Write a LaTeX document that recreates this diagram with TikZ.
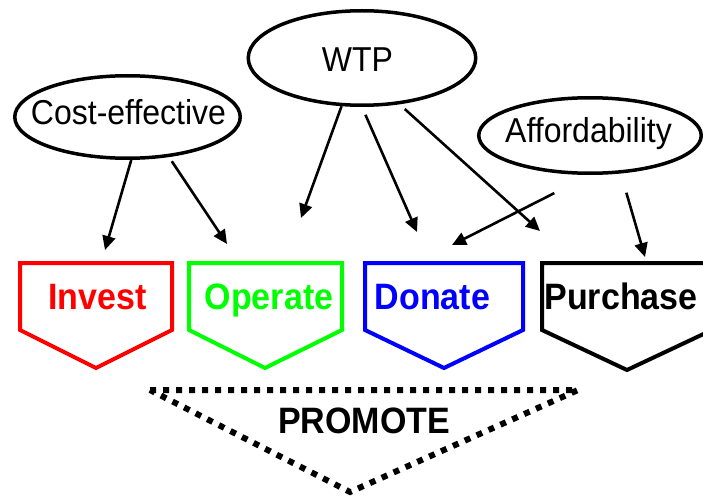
\documentclass[tikz,border=0pt]{standalone}
\usepackage{fontspec}
\setmainfont{Liberation Sans}
\usetikzlibrary{shapes.geometric,arrows.meta}
\newcommand{\tallish}[1]{\scalebox{1}[1.08]{#1}}
\begin{document}
\begin{tikzpicture}[x=1pt,y=-1pt,
    factor/.style={draw,ellipse,line width=3.5pt,inner sep=0pt},
    factortext/.style={anchor=base,font=\fontsize{32}{36}\selectfont},
    link/.style={line width=2.6pt,-{Triangle[length=14pt,width=13pt]}},
    acttext/.style={anchor=base,font=\bfseries\fontsize{34}{40}\selectfont},
    actbox/.style={line width=4pt,line join=miter}]
  \useasboundingbox (0,0) rectangle (703,497);
  \clip (0,0) rectangle (703,497);
  % the three factors
  \node[factor,minimum width=225.5pt,minimum height=82.5pt] (cost) at (127.5,117) {};
  \node[factor,minimum width=227.5pt,minimum height=94.5pt] (wtp) at (362,58) {};
  \node[factor,minimum width=222.5pt,minimum height=75.5pt] (afford) at (590,135.5) {};
  \node[factortext] (costtext) at (128.5,125) {\tallish{Cost-effective}};
  \node[factortext] (wtptext) at (357.5,72) {\tallish{WTP}};
  \node[factortext] (affordtext) at (588.5,143) {\tallish{Affordability}};
  % the four actions
  \foreach \l/\r/\m/\b/\c in {20/172/96/368/red, 189/342/265/368/green,
      365/523/444/368/blue, 542/712/627/370/black}
    \draw[actbox,\c] (\l,263) -- (\r,263) -- (\r,330) -- (\m,\b) -- (\l,330) -- cycle;
  \node[acttext,red] (invest) at (97.5,309) {\tallish{Invest}};
  \node[acttext,green] (operate) at (269,309) {\tallish{Operate}};
  \node[acttext,blue] (donate) at (432.5,309) {\tallish{Donate}};
  \node[acttext] (purchase) at (621,309) {\tallish{Purchase}};
  % arrow tips
  \coordinate (tipinvest) at (105,250);
  \coordinate (tipoperate) at (227,244);
  \coordinate (tipgap) at (301,218);
  \coordinate (tipdonate) at (417,232);
  \coordinate (tipdonateb) at (452,245);
  \coordinate (tippurchase) at (540,231);
  \coordinate (tippurchaseb) at (645,257);
  \draw[link] (cost.-85) -- (tipinvest);
  \draw[link,shorten <=5pt] (cost.-44) -- (tipoperate);
  \draw[link] (wtp.-113) -- (tipgap);
  \draw[link,shorten <=8.5pt] (wtp.south) -- (tipdonate);
  \draw[link,shorten <=7pt] (wtp.-51) -- (tippurchase);
  \draw[link,shorten <=40pt] (afford.south) -- (tipdonateb);
  \draw[link,shorten <=20pt] (afford.-51) -- (tippurchaseb);
  % promote
  \coordinate (pa) at (150,390);
  \coordinate (pb) at (578,390);
  \coordinate (pc) at (350,492);
  \draw[line width=6pt,dash pattern=on 6pt off 7pt] (pa) -- (pb) -- (pc) -- cycle;
  \node[acttext] (promote) at (364,433) {\tallish{PROMOTE}};
\end{tikzpicture}
\end{document}
